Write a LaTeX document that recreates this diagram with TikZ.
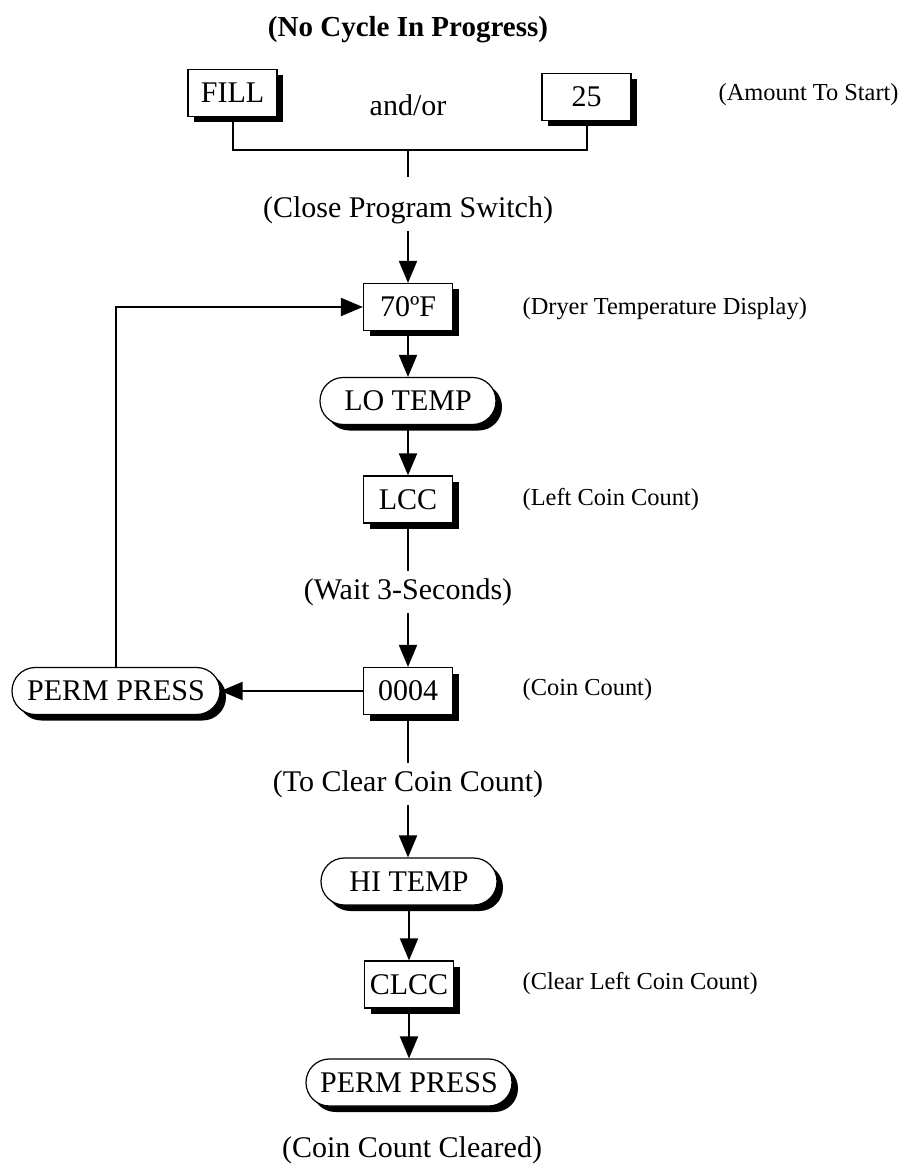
\documentclass[tikz,border=0pt]{standalone}
\usepackage{fontspec}
\setmainfont{Liberation Serif}
\usetikzlibrary{arrows.meta,shadows}

\tikzset{
  solidshadow/.style={drop shadow={shadow xshift=3pt,shadow yshift=-3pt,opacity=1,fill=black}},
  disp/.style={draw,fill=white,line width=0.6pt,minimum width=44.5pt,minimum height=23.5pt,
    inner xsep=2pt,solidshadow},
  keybtn/.style={rectangle,rounded corners=11.7pt,draw,fill=white,line width=0.6pt,
    minimum width=88pt,minimum height=23.5pt,inner xsep=6pt,solidshadow},
  note/.style={font=\fontsize{12.2}{14}\selectfont,anchor=west},
}

\begin{document}
\begin{tikzpicture}[x=0.5pt,y=-0.5pt,line width=1pt,>={Triangle[length=11pt,width=9pt]},
    every node/.style={font=\fontsize{15}{18}\selectfont}]
  \useasboundingbox (0,0) rectangle (906,1171);

  \node[font=\bfseries\fontsize{14.5}{17}\selectfont] (title) at (408,30) {(No Cycle In Progress)};

  % start keys
  \node[disp] (fill) at (232.5,93) {FILL};
  \node[disp] (amt) at (586.5,97) {25};
  \node (andor) at (408,105) {and/or};
  \node[note] (amtnote) at (711,95) {(Amount To Start)};
  \coordinate (join) at (408,150);
  \coordinate (joinend) at (408,177);
  \draw (fill.south) |- (join) -| (amt.south);
  \draw (join) -- (joinend);
  \node (close) at (408,210) {(Close Program Switch)};

  % main column
  \node[disp] (temp) at (408,307) {70ºF};
  \node[note] (tempnote) at (515,309) {(Dryer Temperature Display)};
  \node[keybtn] (lotemp) at (408,401) {LO TEMP};
  \node[disp] (lcc) at (408,499.5) {LCC};
  \node[note] (lccnote) at (515,500) {(Left Coin Count)};
  \node (wait) at (408,592) {(Wait 3-Seconds)};
  \node[disp] (count) at (408,691) {0004};
  \node[note] (countnote) at (515,690) {(Coin Count)};
  \node[keybtn,minimum width=104pt] (ppleft) at (116,691) {PERM PRESS};
  \node (clear) at (408,784) {(To Clear Coin Count)};
  \node[keybtn] (hitemp) at (409,881.5) {HI TEMP};
  \node[disp] (clcc) at (409,984.5) {CLCC};
  \node[note] (clccnote) at (515,983) {(Clear Left Coin Count)};
  \node[keybtn,minimum width=103pt] (ppend) at (409,1082.5) {PERM PRESS};
  \node (done) at (412,1150) {(Coin Count Cleared)};

  \draw[->] (close) -- (temp);
  \draw[->] (temp) -- (lotemp);
  \draw[->] (lotemp) -- (lcc);
  \draw (lcc.south) -- (wait.north);
  \draw[->] (wait) -- (count);
  \draw[->] (count) -- (ppleft);
  \draw[->] (ppleft.north) |- (temp.west);
  \draw (count.south) -- (clear.north);
  \draw[->] (clear.south) -- (clear.south |- hitemp.north);
  \draw[->] (hitemp) -- (clcc);
  \draw[->] (clcc) -- (ppend);
\end{tikzpicture}
\end{document}
